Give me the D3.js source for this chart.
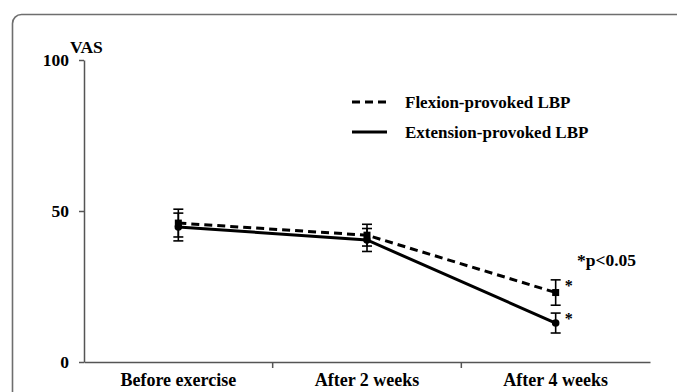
<!DOCTYPE html>
<html>
<head>
<meta charset="utf-8">
<script src="https://cdn.jsdelivr.net/npm/d3@7"></script>
<style>
  html, body { margin: 0; padding: 0; background: #fff; }
  svg text { font-family: "Liberation Serif", "Times New Roman", serif; font-weight: bold; fill: #000; }
</style>
</head>
<body>
<svg id="chart" width="677" height="392"></svg>
<script>
// VAS pain scores over the exercise programme
const categories = ["Before exercise", "After 2 weeks", "After 4 weeks"];
const flexionMean = [46.0, 42.0, 23.0];
const flexionErr = [4.6, 3.6, 4.2];
const extensionMean = [44.7, 40.4, 12.9];
const extensionErr = [4.6, 3.8, 3.3];
const yTicks = [0, 50, 100];
const significant = ["", "", "*"];
const seriesNames = ["Flexion-provoked LBP", "Extension-provoked LBP"];

const svg = d3.select("#chart");

// rounded panel frame
svg.append("rect")
  .attr("x", 12.5).attr("y", 14.5)
  .attr("width", 720).attr("height", 420)
  .attr("rx", 9).attr("ry", 9)
  .attr("fill", "none").attr("stroke", "#6e6e6e").attr("stroke-width", 1.6);

const x = d3.scaleBand().domain(categories).range([84, 650]).padding(0);
const y = d3.scaleLinear().domain([0, 100]).range([362, 60]);
const cx = c => x(c) + x.bandwidth() / 2;

// axes
const yAxis = svg.append("g").attr("transform", "translate(84,0)")
  .call(d3.axisLeft(y).tickValues(yTicks).tickSize(5).tickPadding(10).tickSizeOuter(0));
yAxis.select(".domain").attr("stroke", "#555").attr("stroke-width", 1.5);
yAxis.selectAll(".tick line").attr("stroke", "#555").attr("stroke-width", 1.5);
yAxis.selectAll(".tick text").style("font-size", "17.5px").attr("fill", "#000");

const xAxis = svg.append("g").attr("transform", "translate(0,362)")
  .call(d3.axisBottom(x).tickSize(0).tickSizeOuter(0).tickPadding(11));
xAxis.select(".domain").attr("stroke", "#555").attr("stroke-width", 1.5);
xAxis.selectAll(".tick text").style("font-size", "18px").attr("fill", "#000");
// category boundary ticks
xAxis.selectAll("line.bound")
  .data(categories.slice(1))
  .join("line").attr("class", "bound")
  .attr("x1", d => x(d)).attr("x2", d => x(d))
  .attr("y1", 0).attr("y2", 6)
  .attr("stroke", "#555").attr("stroke-width", 1.5);

svg.append("text").attr("x", 70).attr("y", 53)
  .style("font-size", "17.5px").text("VAS");

// series
const series = [
  { name: seriesNames[0], mean: flexionMean, err: flexionErr, dash: "8,5", marker: "square" },
  { name: seriesNames[1], mean: extensionMean, err: extensionErr, dash: null, marker: "circle" }
];

const line = d3.line().x(d => cx(d.c)).y(d => y(d.v));

series.forEach(s => {
  const pts = categories.map((c, i) => ({ c, v: s.mean[i], e: s.err[i] }));
  const g = svg.append("g");
  // error bars
  pts.forEach(p => {
    const px = cx(p.c);
    g.append("line").attr("x1", px).attr("x2", px)
      .attr("y1", y(p.v + p.e)).attr("y2", y(p.v - p.e))
      .attr("stroke", "#000").attr("stroke-width", 1.6);
    [p.v + p.e, p.v - p.e].forEach(v => {
      g.append("line").attr("x1", px - 5).attr("x2", px + 5)
        .attr("y1", y(v)).attr("y2", y(v))
        .attr("stroke", "#000").attr("stroke-width", 1.6);
    });
  });
  g.append("path").datum(pts).attr("d", line)
    .attr("fill", "none").attr("stroke", "#000").attr("stroke-width", 3)
    .attr("stroke-dasharray", s.dash);
  pts.forEach(p => {
    if (s.marker === "square") {
      g.append("rect").attr("x", cx(p.c) - 3.5).attr("y", y(p.v) - 3.5)
        .attr("width", 7).attr("height", 7).attr("fill", "#000");
    } else {
      g.append("circle").attr("cx", cx(p.c)).attr("cy", y(p.v)).attr("r", 3.8).attr("fill", "#000");
    }
  });
  // significance marks beside the upper cap
  pts.forEach((p, i) => {
    if (significant[i]) {
      g.append("text").attr("x", cx(p.c) + 9).attr("y", y(p.v + p.e) + 11)
        .style("font-size", "16px").text(significant[i]);
    }
  });
});

svg.append("text").attr("x", 577).attr("y", 266)
  .style("font-size", "17.5px").text("*p<0.05");

// legend
const legend = svg.append("g");
series.forEach((s, i) => {
  const ly = 102 + i * 30;
  legend.append("line").attr("x1", 352).attr("x2", 387).attr("y1", ly).attr("y2", ly)
    .attr("stroke", "#000").attr("stroke-width", 3).attr("stroke-dasharray", s.dash);
  legend.append("text").attr("x", 405).attr("y", ly + 5.5)
    .style("font-size", "17px").text(s.name);
});
</script>
</body>
</html>
